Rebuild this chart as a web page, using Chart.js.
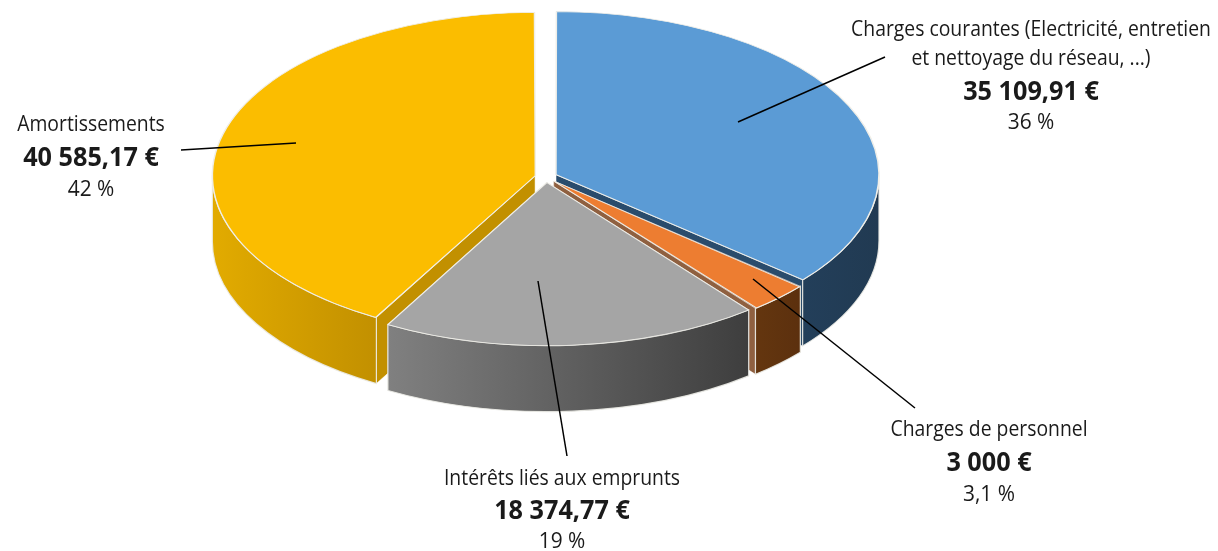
<!DOCTYPE html>
<html lang="fr">
<head>
<meta charset="utf-8">
<title>Charges</title>
<script src="https://cdn.jsdelivr.net/npm/chart.js@4"></script>
<style>
  html, body { margin: 0; padding: 0; background: #fff; }
  canvas { display: block; }
</style>
</head>
<body>
<canvas id="grafico" width="1218" height="551"></canvas>
<script>
const categories = ["Charges courantes", "Charges de personnel", "Intérêts liés aux emprunts", "Amortissements"];
const valeurs = [35109.91, 3000, 18374.77, 40585.17];
const valeursTexte = ["35 109,91 €", "3 000 €", "18 374,77 €", "40 585,17 €"];
const pourcents = ["36 %", "3,1 %", "19 %", "42 %"];

const couleurs = ["#5b9bd5", "#ed7d31", "#a5a5a5", "#fbbd00"];
// couleur de la tranche (gauche, droite) et de la coupe
const coteG = ["#233f5a", "#64360f", "#808080", "#e2ab00"];
const coteD = ["#213a52", "#5c300e", "#3e3e3e", "#c29000"];
const coupe = ["#2a4c6c", "#8f6040", "#505050", "#c29000"];
const ordreCotes = [0, 3, 1, 2];

const ecrasement = 0.505;
const epaisseur = 66;
const decalage = 44; // chart.js translate de offset/4

// textes autour du camembert
const etiquettes = [
  { x: 1031, lignes: [["Charges courantes (Electricité, entretien", 36], ["et nettoyage du réseau, ...)", 65]], yVal: 100, yPct: 129, trait: [738, 122, 885, 57] },
  { x: 989, lignes: [["Charges de personnel", 436]], yVal: 471, yPct: 501, trait: [753, 279, 915, 408] },
  { x: 562, lignes: [["Intérêts liés aux emprunts", 485]], yVal: 519, yPct: 548, trait: [538, 281, 567, 456] },
  { x: 91, lignes: [["Amortissements", 131]], yVal: 166, yPct: 196, trait: [181, 150, 296, 143] }
];

function texte(ctx, str, x, y, font, sx) {
  ctx.save();
  ctx.translate(x, y);
  ctx.scale(sx, 1);
  ctx.font = font;
  ctx.textAlign = "center";
  ctx.fillStyle = "#1a1a1a";
  ctx.fillText(str, 0, 0);
  ctx.restore();
}

const pie3d = {
  id: "pie3d",
  afterDatasetsUpdate(chart) {
    // chart.js agrandit le rayon selon offset, on le remet pareil pour toutes les tranches
    chart.getDatasetMeta(0).data.forEach(arc => {
      const fix = 1 - Math.sin(Math.min(Math.PI, arc.circumference));
      arc.outerRadius -= (decalage / 4) * fix;
      arc.rayon3d = arc.outerRadius + (decalage / 4) * fix;
    });
  },
  beforeDatasetsDraw(chart) {
    const ctx = chart.ctx;
    const arcs = chart.getDatasetMeta(0).data;
    ordreCotes.forEach(i => {
      const arc = arcs[i];
      const mid = (arc.startAngle + arc.endAngle) / 2;
      const cx = arc.x + Math.cos(mid) * decalage / 4;
      const cy = arc.y + Math.sin(mid) * decalage / 4 * ecrasement;
      const r = arc.rayon3d, ry = r * ecrasement;

      // coupes
      [arc.startAngle, arc.endAngle].forEach(a => {
        const px = cx + Math.cos(a) * r, py = cy + Math.sin(a) * ry;
        ctx.beginPath();
        ctx.moveTo(cx, cy);
        ctx.lineTo(px, py);
        ctx.lineTo(px, py + epaisseur);
        ctx.lineTo(cx, cy + epaisseur);
        ctx.closePath();
        ctx.fillStyle = coupe[i];
        ctx.fill();
        ctx.strokeStyle = "rgba(255,255,255,0.55)";
        ctx.lineWidth = 1;
        ctx.stroke();
      });

      // tranche extérieure, seulement la partie vers l'avant
      const a0 = Math.max(arc.startAngle, 0), a1 = Math.min(arc.endAngle, Math.PI);
      if (a1 > a0) {
        const grad = ctx.createLinearGradient(cx + Math.cos(a1) * r, 0, cx + Math.cos(a0) * r, 0);
        grad.addColorStop(0, coteG[i]);
        grad.addColorStop(1, coteD[i]);
        ctx.beginPath();
        ctx.ellipse(cx, cy, r, ry, 0, a0, a1);
        ctx.ellipse(cx, cy + epaisseur, r, ry, 0, a1, a0, true);
        ctx.closePath();
        ctx.fillStyle = grad;
        ctx.fill();
        ctx.strokeStyle = "rgba(235,235,230,0.9)";
        ctx.lineWidth = 1.2;
        ctx.stroke();
      }
    });
    // le dessus est dessiné par chart.js, écrasé en ellipse
    const y0 = arcs[0].y;
    ctx.save();
    ctx.translate(0, y0);
    ctx.scale(1, ecrasement);
    ctx.translate(0, -y0);
  },
  afterDatasetsDraw(chart) {
    chart.ctx.restore();
  },
  afterDraw(chart) {
    const ctx = chart.ctx;
    ctx.textBaseline = "alphabetic";
    etiquettes.forEach((e, i) => {
      e.lignes.forEach(l => texte(ctx, l[0], e.x, l[1], "22px 'Open Sans'", 0.88));
      texte(ctx, valeursTexte[i], e.x, e.yVal, "bold 26px 'Open Sans'", 0.97);
      texte(ctx, pourcents[i], e.x, e.yPct, "22px 'Open Sans'", 0.95);
      ctx.beginPath();
      ctx.moveTo(e.trait[0], e.trait[1]);
      ctx.lineTo(e.trait[2], e.trait[3]);
      ctx.strokeStyle = "#000";
      ctx.lineWidth = 1.5;
      ctx.stroke();
    });
  }
};

new Chart(document.getElementById("grafico"), {
  type: "pie",
  data: {
    labels: categories,
    datasets: [{
      data: valeurs,
      backgroundColor: couleurs,
      borderColor: "#efeee8",
      borderWidth: 1.5,
      offset: decalage,
      clip: false
    }]
  },
  options: {
    responsive: false,
    animation: false,
    radius: 323,
    layout: { padding: { right: 126, bottom: 197 } },
    plugins: { legend: { display: false }, tooltip: { enabled: false } }
  },
  plugins: [pie3d]
});
</script>
</body>
</html>
